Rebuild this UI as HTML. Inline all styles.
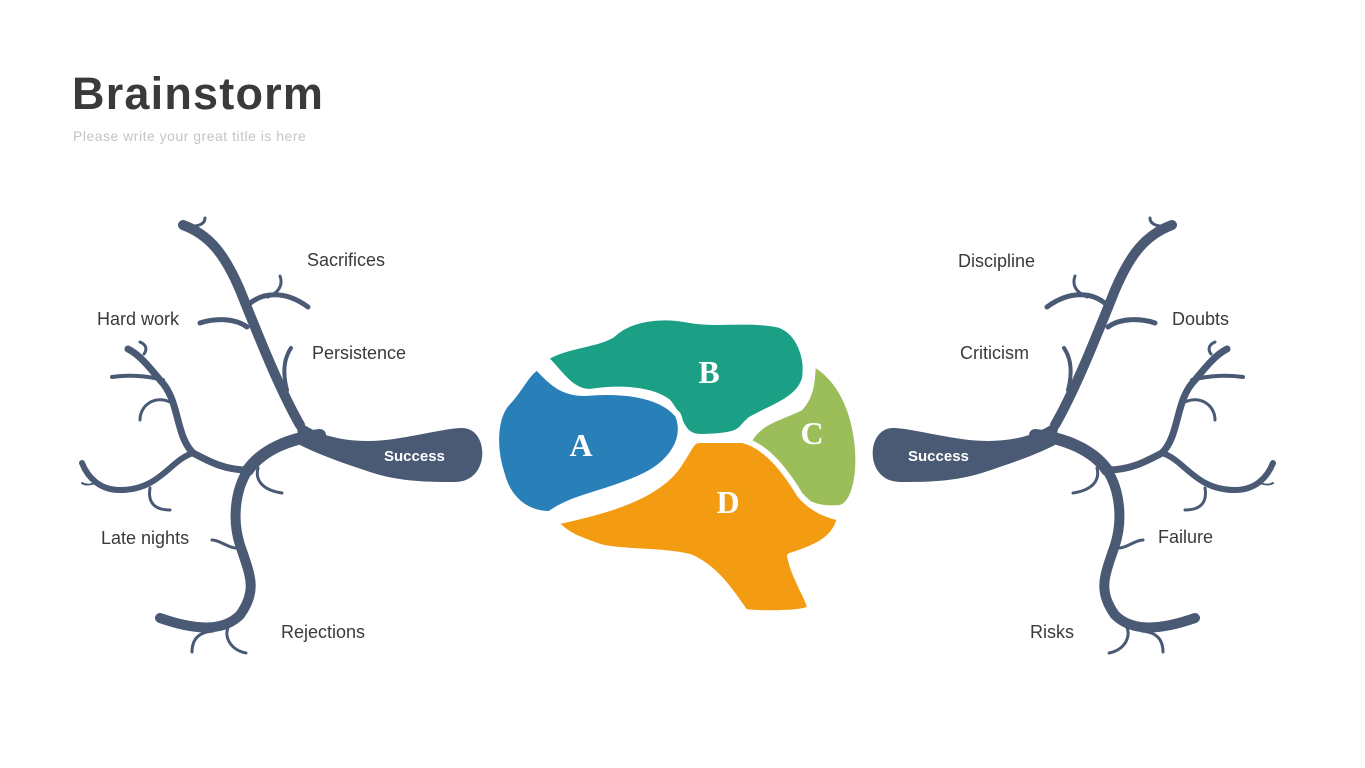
<!DOCTYPE html>
<html><head><meta charset="utf-8"><style>
html,body{margin:0;padding:0;background:#fff;}
body{width:1365px;height:768px;position:relative;overflow:hidden;font-family:"Liberation Sans",sans-serif;}
.t{position:absolute;color:#3a3a3a;font-size:18px;line-height:20px;white-space:nowrap;}
</style></head><body>
<div style="position:absolute;left:72px;top:68px;font-size:45px;font-weight:bold;color:#3a3a3a;letter-spacing:1.2px;line-height:52px;">Brainstorm</div>
<div style="position:absolute;left:73px;top:128px;font-size:14px;color:#c4c4c4;line-height:16px;letter-spacing:0.5px;">Please write your great title is here</div>
<svg width="1365" height="768" style="position:absolute;left:0;top:0">
<defs>
<g id="tree" fill="none" stroke="#4a5a75" stroke-linecap="round">
  <path d="M300,425 C280,390 260,340 240,290 C225,255 210,235 183,225" stroke-width="10"/>
  <path d="M183,225 C195,228 205,225 205,218" stroke-width="3"/>
  <path d="M248,305 C262,292 285,290 308,307" stroke-width="5"/>
  <path d="M268,297 C280,292 283,284 280,276" stroke-width="3"/>
  <path d="M247,327 C235,318 215,318 200,323" stroke-width="5"/>
  <path d="M287,390 C283,375 283,360 291,348" stroke-width="4"/>
  <path d="M320,435 C290,438 262,450 248,470" stroke-width="12"/>
  <path d="M248,470 C235,490 232,520 240,545 C250,575 258,590 240,615 C225,630 200,632 160,618" stroke-width="10"/>
  <path d="M213,631 C200,632 192,638 192,652" stroke-width="3"/>
  <path d="M230,624 C222,635 230,650 246,653" stroke-width="3"/>
  <path d="M236,548 C228,548 220,540 212,540" stroke-width="3"/>
  <path d="M258,468 C255,480 262,490 282,493" stroke-width="3"/>
  <path d="M248,470 C225,470 210,462 193,453 C175,435 180,400 160,380 C150,368 140,355 128,349" stroke-width="7"/>
  <path d="M163,380 C145,375 125,375 112,377" stroke-width="4"/>
  <path d="M144,354 C147,350 147,345 140,342" stroke-width="3"/>
  <path d="M170,402 C155,395 140,405 140,420" stroke-width="3"/>
  <path d="M193,453 C170,460 160,490 120,490 C100,490 88,478 82,463" stroke-width="6"/>
  <path d="M150,488 C148,500 152,510 170,510" stroke-width="3"/>
  <path d="M95,483 C90,485 85,485 82,483" stroke-width="2"/>
</g>
<g id="blob">
  <path d="M295,418 C320,440 360,445 400,438 C430,433 450,428 462,428 C476,428 484,442 482,458 C480,472 470,482 455,482 C430,482 400,482 370,472 C340,462 320,455 300,445 Z" fill="#4a5a75"/>
</g>
</defs>
<use href="#tree"/><use href="#blob"/>
<g transform="translate(1355,0) scale(-1,1)"><use href="#tree"/><use href="#blob"/></g>
<g stroke="#fff" stroke-width="6" stroke-linejoin="round">
<path fill="#1ba085" d="M545,358 C565,345 595,345 612,335 C630,318 660,314 690,320 C720,325 750,318 780,325 C800,333 808,358 805,378 C800,400 770,408 750,420 C738,430 745,436 700,437 C680,436 683,420 668,402 C650,388 615,388 590,392 C570,392 560,372 545,358 Z"/>
<path fill="#2980b9" d="M537,367 C550,380 560,393 585,393 C620,390 660,393 678,415 C688,440 670,465 640,478 C605,494 570,498 550,514 C525,514 508,498 502,475 C493,448 494,418 507,403 C520,390 525,375 537,367 Z"/>
<path fill="#9cbe5a" d="M813,363 C840,378 855,410 858,450 C860,480 853,505 840,508 C820,510 800,505 790,485 C780,465 765,455 748,442 C760,420 780,418 800,408 C812,395 812,380 813,363 Z"/>
<path fill="#f39c12" d="M555,522 C600,512 650,500 675,470 C690,450 690,440 700,440 L742,440 C765,445 785,470 800,495 C815,512 830,515 840,518 C835,540 815,548 790,556 C795,580 810,600 810,608 C808,614 760,614 745,612 C730,590 715,568 690,557 C660,550 625,553 600,547 C580,540 565,535 555,522 Z"/>
</g>
<g font-family="'Liberation Serif',serif" font-weight="bold" font-size="32" fill="#fff" text-anchor="middle">
<text x="581" y="456">A</text><text x="709" y="383">B</text><text x="812" y="444">C</text><text x="728" y="513">D</text>
</g>
<g font-family="'Liberation Sans',sans-serif" font-weight="bold" font-size="15" fill="#fff">
<text x="384" y="461">Success</text><text x="908" y="461">Success</text>
</g>
</svg>
<div class="t" style="left:307px;top:250px">Sacrifices</div>
<div class="t" style="left:97px;top:309px">Hard work</div>
<div class="t" style="left:312px;top:343px">Persistence</div>
<div class="t" style="left:101px;top:528px">Late nights</div>
<div class="t" style="left:281px;top:622px">Rejections</div>
<div class="t" style="left:958px;top:251px">Discipline</div>
<div class="t" style="left:1172px;top:309px">Doubts</div>
<div class="t" style="left:960px;top:343px">Criticism</div>
<div class="t" style="left:1158px;top:527px">Failure</div>
<div class="t" style="left:1030px;top:622px">Risks</div>
</body></html>
